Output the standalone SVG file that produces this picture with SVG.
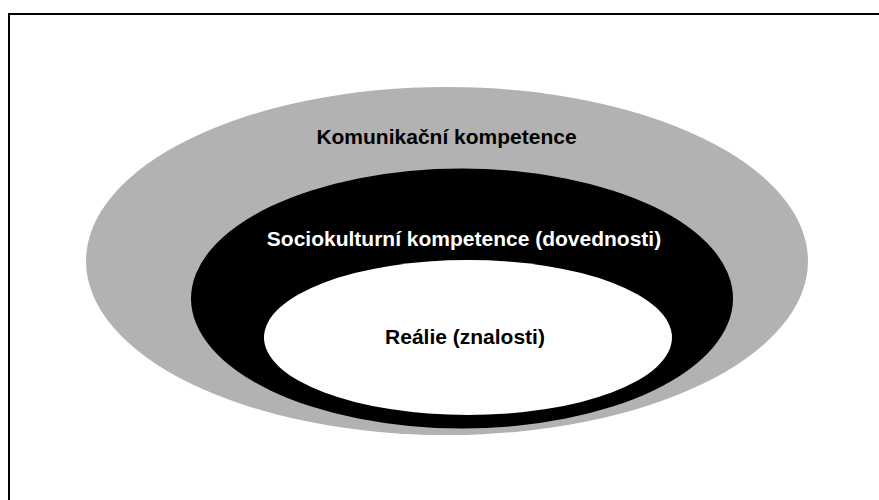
<svg xmlns="http://www.w3.org/2000/svg" width="879" height="500" viewBox="0 0 879 500">
<style>
.lbl{font-family:"Liberation Sans",Arial,sans-serif;font-weight:bold;font-size:21px;text-anchor:middle}
</style>
<rect x="0" y="0" width="879" height="500" fill="#ffffff"/>
<path d="M9 500 V14 H879" fill="none" stroke="#000" stroke-width="2"/>
<g id="komunikacni">
<ellipse cx="447" cy="261" rx="361" ry="174" fill="#b2b2b2"/>
<text class="lbl" x="446.5" y="144" fill="#000">Komunikační kompetence</text>
</g>
<g id="sociokulturni">
<ellipse cx="462" cy="298.5" rx="271" ry="130" fill="#000"/>
<text class="lbl" x="464" y="246" fill="#fff">Sociokulturní kompetence (dovednosti)</text>
</g>
<g id="realie">
<ellipse cx="468" cy="337.5" rx="204" ry="77.5" fill="#fff"/>
<text class="lbl" x="465" y="344" fill="#000">Reálie (znalosti)</text>
</g>
<g id="connectors"/>
</svg>
